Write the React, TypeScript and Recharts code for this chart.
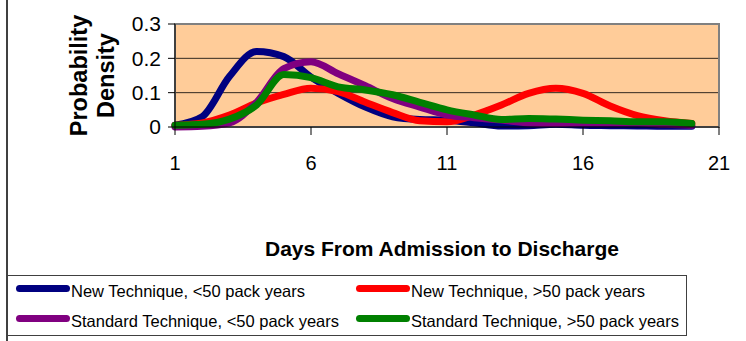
import React from "react";
import {
  LineChart,
  Line,
  XAxis,
  YAxis,
  CartesianGrid,
  Legend,
  Label,
  ReferenceArea,
} from "recharts";

const days = [1, 2, 3, 4, 5, 6, 7, 8, 9, 10, 11, 12, 13, 14, 15, 16, 17, 18, 19, 20];
const newLow = [0.005, 0.03, 0.147, 0.22, 0.205, 0.145, 0.098, 0.058, 0.03, 0.022, 0.02, 0.012, 0.003, 0.004, 0.008, 0.005, 0.004, 0.003, 0.002, 0.002];
const newHigh = [0.005, 0.012, 0.035, 0.07, 0.095, 0.113, 0.103, 0.072, 0.042, 0.018, 0.015, 0.035, 0.064, 0.098, 0.113, 0.098, 0.061, 0.033, 0.018, 0.01];
const stdLow = [0.0, 0.002, 0.012, 0.072, 0.17, 0.19, 0.155, 0.12, 0.083, 0.058, 0.035, 0.027, 0.02, 0.012, 0.01, 0.012, 0.012, 0.012, 0.008, 0.005];
const stdHigh = [0.005, 0.008, 0.023, 0.064, 0.153, 0.144, 0.117, 0.108, 0.094, 0.072, 0.05, 0.035, 0.022, 0.025, 0.023, 0.02, 0.018, 0.015, 0.015, 0.01];

const xTicks = [1, 6, 11, 16, 21];
const yTicks = [0, 0.1, 0.2, 0.3];

const series = [
  { key: "newLow", name: "New Technique, <50 pack years", color: "#000080" },
  { key: "newHigh", name: "New Technique, >50 pack years", color: "#FF0000" },
  { key: "stdLow", name: "Standard Technique, <50 pack years", color: "#800080" },
  { key: "stdHigh", name: "Standard Technique, >50 pack years", color: "#008000" },
];

const data = days.map((d, i) => ({
  day: d,
  newLow: newLow[i],
  newHigh: newHigh[i],
  stdLow: stdLow[i],
  stdHigh: stdHigh[i],
}));

const FONT = '"Liberation Sans", Arial, sans-serif';

function YTitle(props: any) {
  const vb = props.viewBox || { x: 0, y: 24, width: 175, height: 103 };
  const cy = vb.y + vb.height / 2;
  const lines = [
    { text: "Probability", x: 79 },
    { text: "Density", x: 106 },
  ];
  return (
    <g>
      {lines.map((l) => (
        <text
          key={l.text}
          x={l.x}
          y={cy}
          transform={`rotate(-90, ${l.x}, ${cy})`}
          textAnchor="middle"
          dominantBaseline="central"
          fontFamily={FONT}
          fontWeight="bold"
          fontSize={23.5}
          fill="#000"
        >
          {l.text}
        </text>
      ))}
    </g>
  );
}

function LegendBox(props: any) {
  const items = props.payload || [];
  return (
    <div
      style={{
        display: "grid",
        gridTemplateColumns: "340px 340px",
        gridAutoRows: "30px",
        fontFamily: FONT,
        fontSize: 16.5,
        color: "#000",
        paddingLeft: 8,
      }}
    >
      {items.map((it: any) => (
        <div key={it.value} style={{ display: "flex", alignItems: "center", whiteSpace: "nowrap" }}>
          <span
            style={{
              display: "inline-block",
              width: 54,
              height: 7,
              borderRadius: 4,
              background: it.color,
              marginRight: 1,
              transform: "translateY(-3px)",
            }}
          />
          <span>{it.value}</span>
        </div>
      ))}
    </div>
  );
}

export default function App() {
  return (
    <div style={{ position: "absolute", left: 0, top: 0, width: 746, height: 341, background: "#fff" }}>
      <div style={{ position: "absolute", left: 6, top: 0, width: 2, height: 341, background: "#404040" }} />
      <LineChart
        width={746}
        height={341}
        data={data}
        margin={{ top: 24, right: 27, left: 0, bottom: 0 }}
      >
        <CartesianGrid vertical={false} stroke="#000" strokeOpacity={0.8} fill="#FFCC99" fillOpacity={1} />
        <ReferenceArea x1={1} x2={21} y1={0} y2={0.3} fill="none" stroke="#808080" strokeWidth={2} />
        <XAxis
          dataKey="day"
          type="number"
          domain={[1, 21]}
          ticks={xTicks}
          height={214}
          axisLine={{ stroke: "#000" }}
          tickLine={{ stroke: "#000" }}
          tickSize={8}
          tickMargin={21}
          tick={{ fill: "#000", fontSize: 20, fontFamily: FONT }}
        >
          <Label
            value="Days From Admission to Discharge"
            position="insideTop"
            offset={114}
            dx={-5}
            style={{ fontFamily: FONT, fontSize: 21, fontWeight: "bold", fill: "#000" }}
          />
        </XAxis>
        <YAxis
          type="number"
          domain={[0, 0.3]}
          ticks={yTicks}
          width={175}
          axisLine={{ stroke: "#000" }}
          tickLine={{ stroke: "#000" }}
          tickSize={7}
          tickMargin={7}
          tickFormatter={(v: number) => (v === 0 ? "0" : String(v))}
          tick={{ fill: "#000", fontSize: 21, fontFamily: FONT }}
        >
          <Label content={<YTitle />} />
        </YAxis>
        <Legend
          layout="horizontal"
          verticalAlign="middle"
          align="center"
          content={<LegendBox />}
          wrapperStyle={{
            left: 7,
            top: 275,
            width: 680,
            height: 61,
            border: "1px solid #404040",
            boxSizing: "border-box",
            background: "#fff",
          }}
        />
        {series.map((s) => (
          <Line
            key={s.key}
            type="monotone"
            dataKey={s.key}
            name={s.name}
            stroke={s.color}
            strokeWidth={7}
            strokeLinecap="round"
            strokeLinejoin="round"
            dot={false}
            activeDot={false}
            isAnimationActive={false}
          />
        ))}
      </LineChart>
    </div>
  );
}
